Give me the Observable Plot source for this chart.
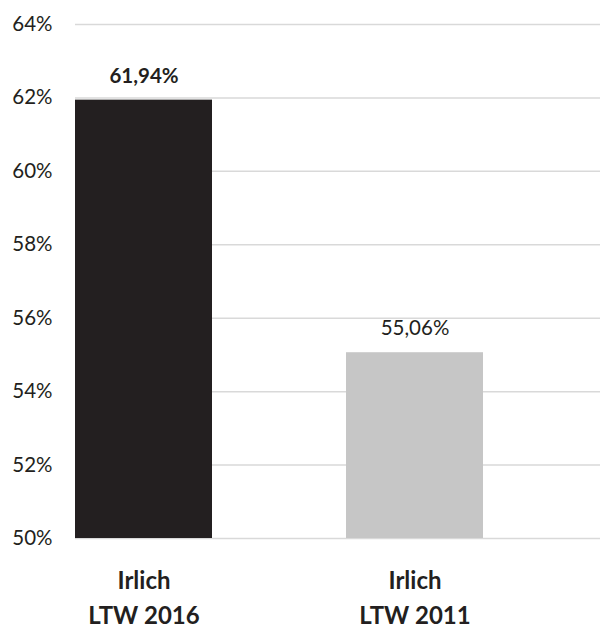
<!DOCTYPE html>
<html>
<head>
<meta charset="utf-8">
<script src="https://cdn.jsdelivr.net/npm/d3@7"></script>
<script src="https://cdn.jsdelivr.net/npm/@observablehq/plot@0.6"></script>
<style>
  html, body { margin: 0; padding: 0; background: #fff; }
  #chart svg { display: block; }
</style>
</head>
<body>
<div id="chart"></div>
<script>
const categories = ["Irlich\nLTW 2016", "Irlich\nLTW 2011"];
const values = [61.94, 55.06];
const yTicks = [50, 52, 54, 56, 58, 60, 62, 64];

const data = categories.map((c, i) => ({category: c, value: values[i], i}));
const fmt = v => v.toFixed(2).replace(".", ",") + "%";
const colors = ["#231f20", "#c6c6c6"];

const chart = Plot.plot({
  width: 613,
  height: 631,
  marginLeft: 75,
  marginRight: 13,
  marginTop: 24,
  marginBottom: 93,
  style: {fontFamily: "Lato, 'Open Sans', sans-serif", color: "#231f20", background: "#fff"},
  x: {domain: categories, paddingInner: 0.4954, paddingOuter: 0.2145, align: 0, label: null},
  y: {domain: [50, 64], label: null},
  marks: [
    Plot.ruleY(yTicks, {stroke: "#d9d9d9", strokeWidth: 1.5}),
    Plot.barY(data, {x: "category", y1: 50, y2: "value", fill: d => colors[d.i]}),
    Plot.text(data.filter(d => d.i === 0), {
      x: "category", y: "value", text: d => fmt(d.value), dy: -24,
      fontSize: 20.5, fill: "#231f20", fontWeight: "bold"
    }),
    Plot.text(data.filter(d => d.i !== 0), {
      x: "category", y: "value", text: d => fmt(d.value), dy: -24,
      fontSize: 20.5, fill: "#231f20", fontWeight: "normal"
    }),
    Plot.axisY({ticks: yTicks, tickSize: 0, tickPadding: 23, tickFormat: d => d + "%", fontSize: 20.5, fill: "#231f20", label: null}),
    Plot.axisX({tickSize: 0, tickPadding: 26, fontSize: 24, fontWeight: "bold", lineHeight: 1.45, fill: "#231f20", label: null})
  ]
});
document.getElementById("chart").appendChild(chart);
</script>
</body>
</html>
